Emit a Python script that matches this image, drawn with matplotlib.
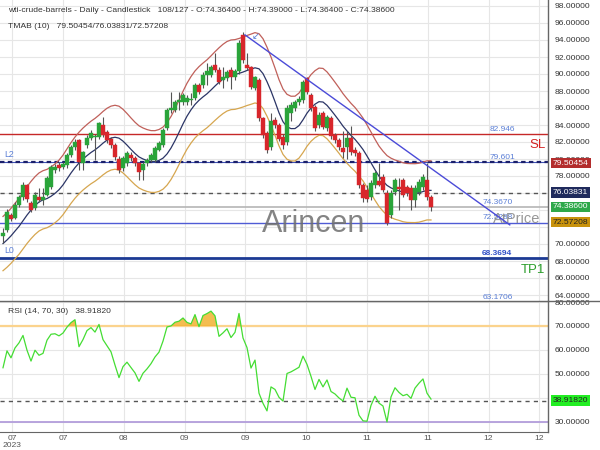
import numpy as np
import pandas as pd
import matplotlib
matplotlib.use("Agg")
import matplotlib.pyplot as plt
import matplotlib.transforms as mtrans
from matplotlib.lines import Line2D

plt.rcParams['font.family'] = ['Liberation Sans', 'DejaVu Sans']

# ---------------- data ----------------
opens = [70.9, 71.6, 73.4, 73.1, 74.6, 75.5, 76.9, 74.8, 74.2, 75.5,
         75.2, 75.8, 76.7, 78.7, 79.3, 79.1, 79.3, 80.5, 81.4, 82.2,
         79.5, 81.6, 82.5, 82.6, 82.6, 84.0, 83.2, 82.3, 81.6, 80.0,
         78.9, 79.5, 80.5, 80.1, 79.5, 78.7, 79.5, 79.9, 79.9, 81.1,
         81.6, 83.6, 85.8, 85.8, 86.7, 86.7, 86.7, 86.9, 87.2, 88.7,
         88.7, 89.9, 89.9, 91.1, 90.5, 89.3, 89.5, 90.5, 89.6, 90.3,
         94.6, 91.0, 90.8, 88.4, 89.3, 84.8, 83.1, 81.4, 84.6, 84.0,
         82.6, 82.0, 85.4, 86.0, 86.7, 86.9, 89.5, 87.5, 86.1, 84.0,
         85.4, 83.6, 84.8, 82.8, 82.2, 81.3, 81.4, 82.5, 81.1, 80.7,
         76.9, 76.3, 75.5, 76.9, 77.4, 77.9, 76.0, 73.4, 76.1, 76.7,
         77.5, 76.7, 76.6, 75.2, 76.1, 76.7, 77.5, 75.5]
highs = [71.9, 74.1, 73.7, 74.9, 75.8, 77.3, 77.1, 75.1, 76.1, 76.6,
         76.6, 78.0, 79.3, 79.4, 79.6, 79.7, 80.7, 81.6, 82.3, 82.4,
         81.0, 82.8, 83.4, 82.9, 84.4, 84.9, 83.4, 82.6, 81.9, 80.3,
         80.4, 81.0, 80.8, 80.4, 79.7, 79.6, 80.1, 80.7, 81.5, 82.1,
         83.7, 86.0, 87.9, 87.0, 87.9, 87.8, 87.5, 87.8, 89.0, 89.0,
         90.2, 91.3, 91.1, 92.5, 90.8, 90.8, 90.5, 90.8, 90.6, 94.0,
         94.9, 92.5, 91.0, 89.8, 89.5, 85.0, 83.3, 85.4, 84.9, 84.2,
         82.9, 86.3, 86.7, 87.0, 87.4, 89.3, 89.7, 87.8, 86.4, 85.5,
         85.7, 85.2, 85.1, 83.1, 82.5, 83.3, 83.3, 83.9, 81.4, 80.9,
         77.2, 77.0, 77.5, 78.6, 79.5, 78.2, 76.3, 76.3, 77.8, 77.8,
         77.8, 77.0, 76.9, 76.9, 77.6, 78.2, 79.5, 75.8]
lows = [70.1, 71.4, 72.7, 72.9, 74.3, 75.2, 75.0, 73.8, 74.0, 75.0,
        74.6, 75.6, 76.5, 78.4, 78.6, 78.8, 79.0, 80.2, 81.1, 78.7,
        78.7, 81.3, 82.2, 79.9, 82.3, 82.6, 81.9, 81.3, 79.9, 78.4,
        78.6, 79.2, 79.8, 79.2, 77.5, 77.5, 79.2, 79.6, 79.7, 80.9,
        81.4, 83.4, 85.4, 85.5, 85.8, 86.4, 86.4, 86.4, 87.0, 87.6,
        88.4, 88.7, 89.6, 90.2, 88.8, 88.4, 89.2, 88.2, 89.3, 90.0,
        91.3, 90.5, 88.2, 88.1, 84.5, 82.5, 80.7, 81.1, 83.7, 82.1,
        81.2, 81.7, 84.5, 85.6, 86.4, 86.6, 87.6, 85.7, 83.3, 83.7,
        83.5, 83.3, 82.4, 81.9, 81.1, 80.1, 80.0, 80.5, 80.4, 76.6,
        75.0, 74.9, 75.2, 76.6, 76.8, 76.1, 72.2, 73.1, 75.8, 74.0,
        75.5, 75.7, 74.0, 74.3, 75.8, 76.4, 75.2, 73.9]
closes = [71.3, 73.8, 73.0, 74.6, 75.5, 76.9, 75.3, 74.0, 75.8, 75.2,
          75.5, 77.8, 79.0, 79.1, 78.9, 79.4, 80.5, 81.4, 82.0, 79.6,
          80.8, 82.5, 83.1, 82.7, 84.2, 82.8, 82.2, 81.6, 80.2, 78.7,
          80.1, 80.7, 80.1, 79.5, 78.5, 79.4, 79.9, 80.5, 81.3, 81.9,
          83.4, 85.8, 86.0, 86.7, 86.9, 87.5, 87.2, 87.1, 88.7, 87.9,
          89.9, 90.3, 90.8, 90.5, 89.1, 89.6, 90.2, 89.6, 90.3, 93.6,
          91.6, 90.7, 88.5, 89.6, 84.8, 82.8, 81.1, 84.5, 84.0, 82.4,
          81.6, 86.0, 86.3, 86.7, 87.1, 89.1, 87.9, 86.0, 83.6, 85.2,
          83.8, 84.9, 82.7, 82.2, 81.4, 80.8, 82.5, 80.8, 80.7, 76.9,
          75.4, 75.3, 77.2, 78.4, 77.0, 76.4, 72.5, 76.0, 77.5, 76.5,
          75.8, 76.0, 75.2, 76.6, 77.3, 77.9, 75.5, 74.386]
# daily closes before the first visible candle (warm-up for the indicators)
pre_closes = [71.1, 70.9, 72.8, 71.9, 71.7, 72.0, 72.9, 74.3, 71.8, 72.7,
              69.5, 68.1, 70.1, 71.7, 72.2, 71.7, 72.5, 71.3, 70.2, 67.1,
              69.4, 68.3, 70.6, 71.8, 70.5, 72.5, 69.5, 69.2, 69.4, 67.7,
              69.6, 69.9, 70.6, 69.8, 71.8, 71.8]

x_tick_pos = [2.25, 15, 30.2, 45.4, 60.6, 75.8, 91, 106.2, 121.4, 134]
x_tick_labels = ['07\n2023', '07', '08', '09', '09', '10', '11', '11', '12', '12']
price_ticks = list(range(64, 99, 2))
price_hidden = [72, 74, 76]          # covered by value boxes in the reference
rsi_ticks = [30, 40, 50, 60, 70, 80]
rsi_hidden = [40]

level_sl = 82.946
level_l2 = 79.601
level_a = 74.3670
level_b = 72.5288
level_l0 = 68.3694
level_c = 63.1706
tmab_last = [79.50454, 76.03831, 72.57208]
rsi_last = 38.91820
last_close = 74.38600
trend_start = (60.5, 94.6)
trend_end = (126.7, 72.25)

# ---------------- indicators ----------------
allc = pd.Series(pre_closes + closes, dtype=float)
tma_all = allc.rolling(5, min_periods=1).mean().rolling(6, min_periods=1).mean()
npre = len(pre_closes)
tma_mid = tma_all.values[npre:]
up_ratio = tmab_last[0] / tmab_last[1]
lo_ratio = tmab_last[2] / tmab_last[1]
tma_up = tma_mid * up_ratio
tma_lo = tma_mid * lo_ratio

d = allc.diff().fillna(0).values
gain = np.clip(d, 0, None)
loss = np.clip(-d, 0, None)
ag = pd.Series(gain).ewm(alpha=1/14, adjust=False).mean().values
al = pd.Series(loss).ewm(alpha=1/14, adjust=False).mean().values
rsi_all = 100 - 100 / (1 + ag / np.maximum(al, 1e-9))
rsi = rsi_all[npre:]

n = len(closes)
idx = np.arange(n)
o = np.array(opens); c = np.array(closes); h = np.array(highs); l = np.array(lows)

# ---------------- figure ----------------
W, H = 600, 450
fig = plt.figure(figsize=(6, 4.5), dpi=100)
axr = 548 / W
ax = fig.add_axes([0, 1 - 301 / H, axr, 301 / H])
ax2 = fig.add_axes([0, 18 / H, axr, (432 - 301) / H], sharex=ax)

xmin, xmax = -0.75, 136.25
ax.set_xlim(xmin, xmax)
ax.set_ylim(98 - 295 / 8.5, 98 + 6 / 8.5)
ax2.set_ylim(30 - 10 / 2.4, 70 + 25 / 2.4)

grid_c = '#e6e6e6'
for a in (ax, ax2):
    a.set_xticks(x_tick_pos)
    a.grid(True, color=grid_c, lw=0.8)
    a.set_axisbelow(True)
    a.yaxis.tick_right()
    for s in ('left', 'top', 'bottom'):
        a.spines[s].set_visible(False)
    a.spines['right'].set_color('#666666')
    a.spines['right'].set_linewidth(1.0)
    a.tick_params(axis='y', length=0, pad=5, labelsize=6.1, labelcolor='#333333')
    a.tick_params(axis='x', length=0)

ax.set_yticks(price_ticks)
ax.set_yticklabels(['' if v in price_hidden else f'{v:.5f}' for v in price_ticks])
ax2.set_yticks(rsi_ticks)
ax2.set_yticklabels(['' if v in rsi_hidden else f'{v:.5f}' for v in rsi_ticks])
ax2.spines['bottom'].set_visible(True)
ax2.spines['bottom'].set_color('#666666')
ax.tick_params(axis='x', labelbottom=False)
ax2.set_xticklabels(x_tick_labels)
ax2.tick_params(axis='x', labelsize=6.1, labelcolor='#555555', pad=2)
for t in ax2.get_xticklabels():
    t.set_linespacing(0.95)

# ---- level lines ----
ax.axhline(level_sl, color='#c62828', lw=1.0, zorder=2)
ax.axhline(level_l2, color='#3f51b5', lw=0.8, zorder=2)
ax.axhline(level_l2, color='#1a1f6b', lw=1.6, ls=(0, (2, 1.5)), zorder=2)
ax.axhline(tmab_last[1], color='#555555', lw=1.0, ls=(0, (3, 3)), zorder=2)
ax.axhline(level_a, color='#b5b5b5', lw=1.2, zorder=2)
ax.axhline(level_b, color='#4f5bd5', lw=1.0, zorder=2)
ax.axhline(level_l0, color='#1c3a94', lw=2.0, zorder=2)
ax.axhline(level_c, color='#4f5bd5', lw=1.0, zorder=2)

# ---- TMA bands ----
ax.plot(idx, tma_up, color='#c0605a', lw=0.9, zorder=3)
ax.plot(idx, tma_mid, color='#2b3566', lw=0.9, zorder=3)
ax.plot(idx, tma_lo, color='#d6a64f', lw=0.9, zorder=3)

# ---- candles ----
up = c >= o
cols = np.where(up, '#2aa43a', '#d8262b')
ax.vlines(idx, l, h, color='#555555', lw=0.8, zorder=4)
body_b = np.minimum(o, c)
body_h = np.maximum(np.abs(c - o), 0.08)
ax.bar(idx, body_h, bottom=body_b, width=0.78, color=cols, edgecolor=cols, lw=0.3, zorder=5)

# ---- trend line ----
ax.plot([trend_start[0], trend_end[0]], [trend_start[1], trend_end[1]], color='#4b4bd8', lw=1.0, zorder=6)
ax.text(trend_start[0] + 2.6, trend_start[1] - 0.2, '\u2199', color='#5b7fd6', fontsize=7,
        va='center', ha='center', family=['DejaVu Sans'], zorder=6)

# ---- level labels ----
lab_c = '#5b7fd6'
ax.text(121.7, level_sl + 0.15, f'{level_sl:.3f}', color=lab_c, fontsize=6, va='bottom', ha='left')
ax.text(121.7, level_l2 + 0.15, f'{level_l2:.3f}', color=lab_c, fontsize=6, va='bottom', ha='left')
ax.text(119.8, level_a + 0.15, f'{level_a:.4f}', color=lab_c, fontsize=6, va='bottom', ha='left')
ax.text(119.8, level_b + 0.15, f'{level_b:.4f}', color=lab_c, fontsize=6, va='bottom', ha='left')
ax.text(119.8, level_l0 + 0.15, f'{level_l0:.4f}', color='#3050c8', fontsize=6, va='bottom', ha='left', fontweight='bold')
ax.text(119.8, level_c + 0.15, f'{level_c:.4f}', color=lab_c, fontsize=6, va='bottom', ha='left')
ax.text(0.3, level_l2 + 0.35, 'L2', color=lab_c, fontsize=6.3, va='bottom', ha='left')
ax.text(0.3, level_l0 + 0.35, 'L0', color=lab_c, fontsize=6.3, va='bottom', ha='left')
ax.text(135.6, 81.65, 'SL', color='#d42020', fontsize=9.5, va='center', ha='right')
ax.text(135.6, 66.94, 'TP1', color='#2a9d2a', fontsize=9.5, va='center', ha='right')
ax.text(122.5, 72.94, 'AtPrice', color='#8c8c8c', fontsize=10.5, va='center', ha='left', alpha=0.9)
ax.text(77.6, 72.35, 'Arincen', color='#6e6e6e', fontsize=22, va='center', ha='center', alpha=0.85)

# ---- header texts ----
fig.text(8 / W, 1 - 10 / H, 'wti-crude-barrels - Daily - Candlestick   108/127 - O:74.36400 - H:74.39000 - L:74.36400 - C:74.38600',
         fontsize=6.1, color='#333333', va='center', ha='left')
fig.text(8 / W, 1 - 26 / H, 'TMAB (10)   ' + '/'.join(f'{v:.5f}' for v in tmab_last),
         fontsize=6.1, color='#333333', va='center', ha='left')

# ---- right value boxes ----
def box(axis, y, txt, fc, tc):
    tr = mtrans.blended_transform_factory(axis.transAxes, axis.transData)
    axis.text(1 + 5 / 548, y, txt, transform=tr, fontsize=6.1, color=tc, va='center', ha='left',
              bbox=dict(boxstyle='square,pad=0.2', fc=fc, ec='none'), zorder=10)
box(ax, tmab_last[0], f'{tmab_last[0]:.5f}', '#b32d2d', 'white')
box(ax, tmab_last[1], f'{tmab_last[1]:.5f}', '#1f2a5c', 'white')
box(ax, last_close, f'{last_close:.5f}', '#2ea84a', 'white')
box(ax, tmab_last[2], f'{tmab_last[2]:.5f}', '#c8920c', '#222222')

# ---------------- RSI panel ----------------
ax2.axhline(70, color='#fbd38d', lw=1.6, zorder=2)
ax2.axhline(30, color='#b39ddb', lw=1.3, zorder=2)
ax2.axhline(rsi_last, color='#555555', lw=1.0, ls=(0, (3, 3)), zorder=2)
ax2.fill_between(idx, rsi, 70, where=rsi > 70, interpolate=True, color='#f2b233', alpha=0.85, lw=0, zorder=3)
ax2.plot(idx, rsi, color='#44dd33', lw=0.9, zorder=4)
ax2.text(8 / 548, 76.2, f'RSI (14, 70, 30)   {rsi_last:.5f}', transform=mtrans.blended_transform_factory(ax2.transAxes, ax2.transData),
         fontsize=6.1, color='#333333', va='center', ha='left')
box(ax2, rsi_last, f'{rsi_last:.5f}', '#22ee22', '#222222')

# separator line between panels
fig.add_artist(Line2D([0, 1], [1 - 301 / H, 1 - 301 / H], color='#666666', lw=1.0, transform=fig.transFigure))

fig.savefig('out.png', dpi=100)
